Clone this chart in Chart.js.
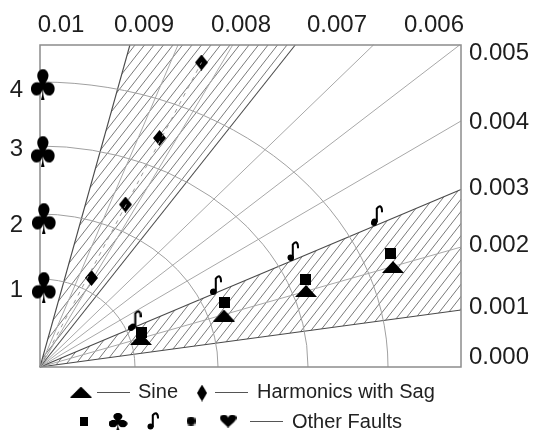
<!DOCTYPE html>
<html>
<head>
<meta charset="utf-8">
<script src="https://cdn.jsdelivr.net/npm/chart.js@4.4.0/dist/chart.umd.min.js"></script>
<style>
  html, body { margin: 0; padding: 0; background: #fff; }
  #wrap { width: 536px; height: 434px; }
</style>
</head>
<body>
<div id="wrap"><canvas id="chart"></canvas></div>
<script>
// point values, in plot units (same length per unit on both axes)
var sineX = [1.01, 1.84, 2.66, 3.53];
var sineY = [0.28, 0.515, 0.76, 1.00];
var harmX = [0.515, 0.855, 1.195, 1.615];
var harmY = [0.89, 1.625, 2.29, 3.045];
var squareX = [1.015, 1.84, 2.65, 3.50];
var squareY = [0.35, 0.65, 0.875, 1.14];
var clubX = [0.04, 0.04, 0.03, 0.03];
var clubY = [0.80, 1.49, 2.16, 2.83];
var noteX = [0.955, 1.76, 2.53, 3.37];
var noteY = [0.47, 0.82, 1.16, 1.52];
var dotX = [0.91, 1.73, 2.51, 3.34];
var dotY = [0.39, 0.75, 1.09, 1.44];

// tick labels and where they sit
var topLabels = ["0.01", "0.009", "0.008", "0.007", "0.006"];
var topTicks = [0.21, 1.04, 2.01, 2.97, 3.94];
var rightLabels = ["0.005", "0.004", "0.003", "0.002", "0.001", "0.000"];
var rightTicks = [3.14, 2.45, 1.79, 1.22, 0.60, 0.10];
var leftLabels = ["1", "2", "3", "4"];
var leftTicks = [0.77, 1.42, 2.18, 2.77];

// reference rays (degrees), hatched wedges, rings (x and y radius)
var rayAngles = [7.7, 15.9, 22.85, 30.3, 37.5, 44.0, 51.6, 59.1, 66.8, 74.4];
var hatchWedges = [[7.7, 22.85], [51.6, 74.4]];
var ringRx = [0.95, 1.78, 2.68, 3.48];
var ringRy = [0.88, 1.53, 2.21, 2.85];

var X_MAX = 4.21, Y_MAX = 3.22;

//marker images
function makeShape(w, h, draw) {
  var c = document.createElement('canvas');
  c.width = w; c.height = h;
  var g = c.getContext('2d');
  g.fillStyle = '#000';
  g.strokeStyle = '#000';
  draw(g, w, h);
  return c;
}
function makeGlyph(ch, w, h) {
  var big = 100;
  var m = document.createElement('canvas').getContext('2d');
  m.font = big + 'px "DejaVu Sans"';
  var t = m.measureText(ch);
  var gw = t.actualBoundingBoxLeft + t.actualBoundingBoxRight;
  var gh = t.actualBoundingBoxAscent + t.actualBoundingBoxDescent;
  return makeShape(w, h, function(g) {
    g.scale(w / gw, h / gh);
    g.font = big + 'px "DejaVu Sans"';
    g.fillText(ch, t.actualBoundingBoxLeft, t.actualBoundingBoxAscent);
  });
}
function triangle(w, h) {
  return makeShape(w, h, function(g) {
    g.beginPath(); g.moveTo(w / 2, 0); g.lineTo(w, h); g.lineTo(0, h); g.closePath(); g.fill();
  });
}
function diamond(w, h) {
  return makeShape(w, h, function(g) {
    g.beginPath(); g.moveTo(w / 2, 0); g.lineTo(w, h / 2); g.lineTo(w / 2, h); g.lineTo(0, h / 2); g.closePath(); g.fill();
  });
}
function square(w, h) {
  return makeShape(w, h, function(g) { g.fillRect(0, 0, w, h); });
}
function dot(d) {
  return makeShape(d, d, function(g) {
    g.beginPath(); g.arc(d / 2, d / 2, d / 2, 0, Math.PI * 2); g.fill();
  });
}
// eighth note: round head bottom-left, stem, hooked flag
function note(w, h) {
  return makeShape(w, h, function(g) {
    var r = w * 0.25;
    g.beginPath(); g.arc(r + 0.5, h - r - 0.5, r, 0, Math.PI * 2); g.fill();
    g.lineWidth = Math.max(1.6, w * 0.17);
    g.lineCap = 'round';
    var sx = r * 2 - 0.2;
    g.beginPath();
    g.moveTo(sx, h - r - 0.5);
    g.lineTo(sx, h * 0.18);
    g.quadraticCurveTo(sx + w * 0.15, 1, w * 0.75, 1.2);
    g.quadraticCurveTo(w - 1, 2, w - 1, h * 0.32);
    g.stroke();
  });
}

var triImg = triangle(22, 12);
var diaImg = diamond(13, 16);
var sqImg = square(11, 11);
var clubImg = makeGlyph('\u2663', 24, 31);
var noteImg = note(12, 20);
var dotImg = dot(6);

function pts(xs, ys) {
  return xs.map(function(x, i) { return { x: x, y: ys[i] }; });
}
function markers(label, xs, ys, img) {
  return {
    label: label, data: pts(xs, ys), pointStyle: img,
    pointRadius: 7, pointHoverRadius: 7, showLine: false, clip: false
  };
}

//grid rays, rings, hatching, frame
var backdrop = {
  id: 'backdrop',
  beforeDatasetsDraw: function(chart) {
    var ctx = chart.ctx, xs = chart.scales.x, ys = chart.scales.y, a = chart.chartArea;
    var ox = xs.getPixelForValue(0), oy = ys.getPixelForValue(0);
    function rayEnd(deg, far) {
      var r = deg * Math.PI / 180, c = Math.cos(r), s = Math.sin(r);
      var t = far ? 50 : Math.min(xs.max / c, ys.max / s);
      return { x: xs.getPixelForValue(t * c), y: ys.getPixelForValue(t * s) };
    }
    ctx.save();

    hatchWedges.forEach(function(w) {
      var p1 = rayEnd(w[0], true), p2 = rayEnd(w[1], true);
      ctx.save();
      ctx.beginPath(); ctx.rect(a.left, a.top, a.right - a.left, a.bottom - a.top); ctx.clip();
      ctx.beginPath(); ctx.moveTo(ox, oy); ctx.lineTo(p1.x, p1.y); ctx.lineTo(p2.x, p2.y); ctx.closePath(); ctx.clip();
      ctx.strokeStyle = '#6a6a6a'; ctx.lineWidth = 0.9;
      var ang = 52 * Math.PI / 180, step = 9.5, run = (a.bottom - a.top) / Math.tan(ang);
      ctx.beginPath();
      for (var x0 = a.left - run; x0 < a.right; x0 += step) {
        ctx.moveTo(x0, a.bottom); ctx.lineTo(x0 + run, a.top);
      }
      ctx.stroke();
      ctx.restore();
    });

    rayAngles.forEach(function(d) {
      var e = rayEnd(d, false);
      var edge = hatchWedges.some(function(w) { return w[0] === d || w[1] === d; });
      ctx.strokeStyle = edge ? '#4a4a4a' : '#a8a8a8';
      ctx.lineWidth = edge ? 1.1 : 1;
      ctx.beginPath(); ctx.moveTo(ox, oy); ctx.lineTo(e.x, e.y); ctx.stroke();
    });

    ctx.strokeStyle = '#a0a0a0'; ctx.lineWidth = 1;
    ringRx.forEach(function(rx, i) {
      var px = xs.getPixelForValue(rx) - ox, py = oy - ys.getPixelForValue(ringRy[i]);
      ctx.beginPath(); ctx.ellipse(ox, oy, px, py, 0, -Math.PI / 2, 0); ctx.stroke();
    });

    ctx.strokeStyle = '#8c8c8c'; ctx.lineWidth = 1.5;
    ctx.strokeRect(a.left, a.top, a.right - a.left, a.bottom - a.top);
    ctx.restore();
  }
};

// legend under the plot
var keyBox = {
  id: 'keyBox',
  afterDraw: function(chart) {
    var ctx = chart.ctx;
    function put(img, x, y, w, h) { ctx.drawImage(img, x - w / 2, y - h / 2, w, h); }
    function dash(x1, x2, y) {
      ctx.beginPath(); ctx.moveTo(x1, y + 0.5); ctx.lineTo(x2, y + 0.5); ctx.stroke();
    }
    ctx.save();
    ctx.strokeStyle = '#555'; ctx.lineWidth = 1;
    ctx.fillStyle = '#222';
    ctx.font = '20px "Liberation Sans", Arial, sans-serif';
    ctx.textBaseline = 'middle';

    put(triImg, 81, 392, 22, 11);
    dash(97, 130, 392);
    ctx.fillText('Sine', 138, 392);
    put(diaImg, 202, 393, 10, 17);
    dash(215, 248, 392);
    ctx.fillText('Harmonics with Sag', 257, 392);

    put(sqImg, 84, 421, 8, 9);
    put(clubImg, 118, 421, 19, 17);
    put(note(12, 18), 153, 421, 12, 18);
    put(dotImg, 191, 421, 9, 9);
    put(makeGlyph('\u2665', 17, 13), 228, 421, 17, 13);
    dash(250, 283, 421);
    ctx.fillText('Other Faults', 292, 422);
    ctx.restore();
  }
};

var tickFont = { family: '"Liberation Sans", Arial, sans-serif', size: 24 };

function fixedTicks(values) {
  return function(axis) { axis.ticks = values.map(function(v) { return { value: v }; }); };
}

var lastHarm = harmX.length - 1;

new Chart(document.getElementById('chart'), {
  type: 'scatter',
  data: {
    datasets: [
      {
        type: 'line', label: 'Harmonics trend',
        data: [{ x: 0, y: 0 }, { x: harmX[lastHarm], y: harmY[lastHarm] }],
        borderColor: '#9a9a9a', borderWidth: 1, borderDash: [4, 5],
        pointRadius: 0, fill: false
      },
      markers('Sine', sineX, sineY, triImg),
      markers('Square', squareX, squareY, sqImg),
      markers('Harmonics with Sag', harmX, harmY, diaImg),
      markers('Club', clubX, clubY, clubImg),
      markers('Note', noteX, noteY, noteImg),
      markers('Dot', dotX, dotY, dotImg)
    ]
  },
  options: {
    responsive: true,
    maintainAspectRatio: false,
    animation: false,
    layout: { padding: { bottom: 67 } },
    plugins: { legend: { display: false }, tooltip: { enabled: false } },
    scales: {
      x: { type: 'linear', min: 0, max: X_MAX, display: false },
      y: {
        type: 'linear', position: 'left', min: 0, max: Y_MAX,
        grid: { display: false, drawTicks: false }, border: { display: false },
        afterBuildTicks: fixedTicks(leftTicks),
        afterFit: function(ax) { ax.width = 40; },
        ticks: { padding: 17, font: tickFont, color: '#1e1e1e',
          callback: function(v, i) { return leftLabels[i]; } }
      },
      xTop: {
        type: 'linear', position: 'top', min: 0, max: X_MAX,
        grid: { display: false, drawTicks: false }, border: { display: false },
        afterBuildTicks: fixedTicks(topTicks),
        afterFit: function(ax) { ax.height = 45; },
        ticks: { padding: 5, font: tickFont, color: '#1e1e1e', maxRotation: 0, autoSkip: false,
          callback: function(v, i) { return topLabels[i]; } }
      },
      yRight: {
        type: 'linear', position: 'right', min: 0, max: Y_MAX,
        grid: { display: false, drawTicks: false }, border: { display: false },
        afterBuildTicks: fixedTicks(rightTicks),
        afterFit: function(ax) { ax.width = 75; },
        ticks: { padding: 8, font: tickFont, color: '#1e1e1e', autoSkip: false,
          callback: function(v, i) { return rightLabels[i]; } }
      }
    }
  },
  plugins: [backdrop, keyBox]
});
</script>
</body>
</html>
